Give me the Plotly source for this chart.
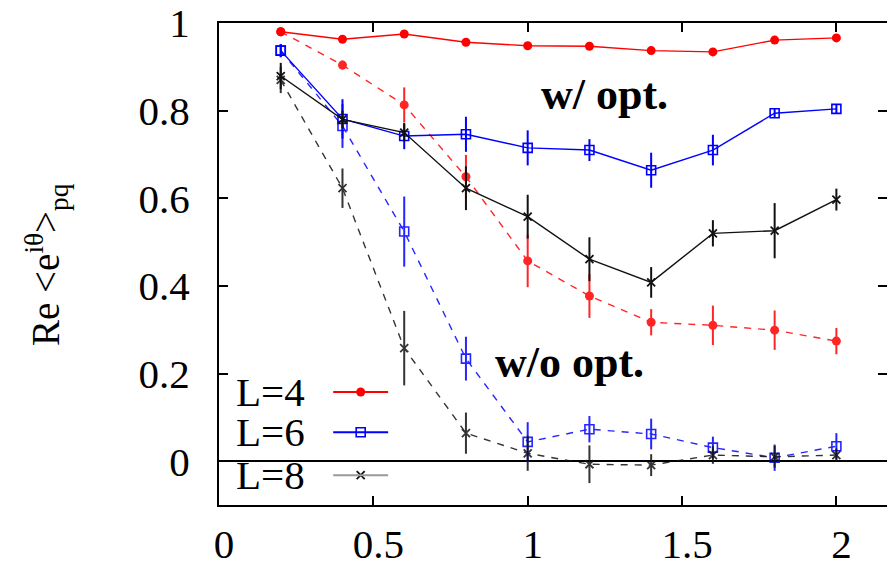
import plotly.graph_objects as go

# ---- data ----
x = [0.2, 0.4, 0.6, 0.8, 1.0, 1.2, 1.4, 1.6, 1.8, 2.0]

L4_opt = [0.980, 0.963, 0.975, 0.956, 0.948, 0.947, 0.937, 0.934, 0.961, 0.966]
L4_opt_err = [0.008, 0.008, 0.008, 0.008, 0.008, 0.008, 0.008, 0.008, 0.008, 0.008]
L6_opt = [0.937, 0.781, 0.742, 0.746, 0.715, 0.710, 0.664, 0.710, 0.794, 0.804]
L6_opt_err = [0.015, 0.045, 0.030, 0.040, 0.040, 0.025, 0.040, 0.035, 0.010, 0.010]
L8_opt = [0.879, 0.780, 0.750, 0.623, 0.558, 0.461, 0.408, 0.520, 0.526, 0.597]
L8_opt_err = [0.030, 0.020, 0.020, 0.050, 0.050, 0.050, 0.035, 0.030, 0.063, 0.025]

L4_noopt = [0.980, 0.904, 0.813, 0.649, 0.457, 0.377, 0.317, 0.310, 0.299, 0.274]
L4_noopt_err = [0.008, 0.010, 0.040, 0.050, 0.060, 0.050, 0.030, 0.045, 0.045, 0.030]
L6_noopt = [0.937, 0.765, 0.524, 0.234, 0.044, 0.073, 0.062, 0.031, 0.008, 0.034]
L6_noopt_err = [0.015, 0.050, 0.080, 0.050, 0.045, 0.030, 0.035, 0.025, 0.030, 0.030]
L8_noopt = [0.870, 0.623, 0.258, 0.064, 0.018, -0.007, -0.009, 0.014, 0.010, 0.014]
L8_noopt_err = [0.030, 0.045, 0.085, 0.047, 0.040, 0.043, 0.025, 0.020, 0.025, 0.015]

labels = ["L=4", "L=6", "L=8"]
x_ticks = [0, 0.5, 1, 1.5, 2]
x_tick_text = ["0", "0.5", "1", "1.5", "2"]
y_ticks = [0, 0.2, 0.4, 0.6, 0.8, 1.0]
y_tick_text = ["0", "0.2", "0.4", "0.6", "0.8", "1"]

RED = "#ff0000"
BLUE = "#0000ff"
BLACK = "#111111"
FONT = "Liberation Serif"

styles = [
    (RED, dict(symbol="circle", size=9, color=RED, line=dict(width=0))),
    (BLUE, dict(symbol="square-open", size=9, color=BLUE, line=dict(width=1.6, color=BLUE))),
    (BLACK, dict(symbol="x-thin-open", size=8, color=BLACK, line=dict(width=1.8, color=BLACK))),
]

fig = go.Figure()

series = [
    (L4_noopt, L4_noopt_err, 0, "dash"),
    (L6_noopt, L6_noopt_err, 1, "dash"),
    (L8_noopt, L8_noopt_err, 2, "dash"),
    (L4_opt, L4_opt_err, 0, "solid"),
    (L6_opt, L6_opt_err, 1, "solid"),
    (L8_opt, L8_opt_err, 2, "solid"),
]
for y, e, i, dash in series:
    col, mk = styles[i]
    fig.add_trace(go.Scatter(
        x=x, y=y, mode="lines+markers",
        line=dict(color=col, width=1.4, dash="7px,7px" if dash == "dash" else "solid"),
        marker=mk,
        opacity=0.85 if dash == "dash" else 1.0,
        error_y=dict(type="data", array=e, visible=True, width=0, thickness=2, color=col),
        showlegend=False, hoverinfo="skip",
    ))

# ---- manual gnuplot-style key (text left, sample right) ----
key_y = [0.158, 0.066, -0.032]
key_line_colors = [RED, BLUE, "#999999"]
for lab, ky, (col, mk), lc in zip(labels, key_y, styles, key_line_colors):
    fig.add_shape(type="line", xref="x", yref="y", x0=0.37, x1=0.548, y0=ky, y1=ky,
                  line=dict(color=lc, width=2))
    fig.add_trace(go.Scatter(x=[0.459], y=[ky], mode="markers", marker=mk,
                             showlegend=False, hoverinfo="skip"))
    fig.add_annotation(x=0.05, y=ky, xref="x", yref="y", text=lab, showarrow=False,
                       xanchor="left", yanchor="middle",
                       font=dict(family=FONT, size=41, color="black"))

fig.add_annotation(x=1.25, y=0.836, xref="x", yref="y", text="<b>w/ opt.</b>",
                   showarrow=False, font=dict(family=FONT, size=44, color="black"))
fig.add_annotation(x=1.137, y=0.226, xref="x", yref="y", text="<b>w/o opt.</b>",
                   showarrow=False, font=dict(family=FONT, size=44, color="black"),
                   bgcolor="white")

fig.add_annotation(x=-0.259, y=0.5, xref="paper", yref="paper",
                   text="Re &lt;e<sup>iθ</sup>&gt;<sub>pq</sub>", textangle=-90,
                   showarrow=False, xanchor="center", yanchor="middle",
                   font=dict(family=FONT, size=39, color="black"))

axis_common = dict(showline=True, linecolor="black", linewidth=2,
                   ticks="inside", ticklen=9, tickwidth=2, tickcolor="black",
                   showgrid=False, ticklabeloverflow="allow", automargin=False,
                   tickfont=dict(family=FONT, size=41, color="black"))

X_MAX = 2.164
Y_RANGE = [-0.1, 1.0]

fig.update_xaxes(range=[0, X_MAX], tickvals=x_ticks, ticktext=x_tick_text,
                 zeroline=False, ticklabelstandoff=2, ticklabelshift=5,
                 mirror="ticks", **axis_common)
fig.update_yaxes(range=Y_RANGE, tickvals=y_ticks, ticktext=y_tick_text,
                 zeroline=True, zerolinecolor="black", zerolinewidth=2,
                 ticklabelstandoff=19, mirror=False, **axis_common)

# right-side inward ticks (the right frame line itself sits just off the picture)
fig.update_layout(yaxis2=dict(overlaying="y", side="right", range=Y_RANGE,
                              tickvals=y_ticks, showticklabels=False, automargin=False,
                              ticks="inside", ticklen=9, tickwidth=2, tickcolor="black",
                              showline=False, showgrid=False, zeroline=False))
fig.add_trace(go.Scatter(x=[None], y=[None], yaxis="y2", showlegend=False,
                         hoverinfo="skip"))

fig.update_layout(
    width=879, height=552,
    margin=dict(l=211, r=0, t=15, b=55, autoexpand=False),
    plot_bgcolor="white", paper_bgcolor="white",
    showlegend=False,
)

fig.write_html("out.html")
